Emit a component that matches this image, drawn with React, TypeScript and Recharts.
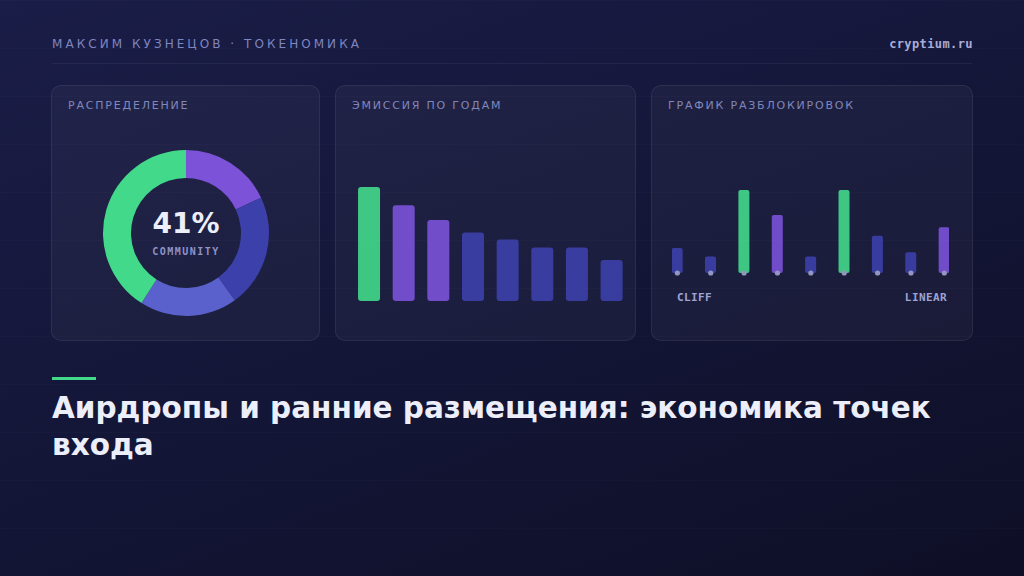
import React from "react";
import {
  PieChart,
  Pie,
  Cell,
  BarChart,
  Bar,
  XAxis,
  YAxis,
  ComposedChart,
  Scatter,
} from "recharts";

// distribution (donut), clockwise from 12 o'clock
const shareNames = ["Команда", "Инвесторы", "Казна", "Community"];
const shareValues = [18, 22, 19, 41];
const shareKinds = ["purple", "blue", "mid", "green"];

// emission per year
const emissionYears = ["2024", "2025", "2026", "2027", "2028", "2029", "2030", "2031"];
const emissionValues = [100, 84, 71, 60, 54, 47, 47, 36];
const emissionKinds = ["green", "purple", "purple", "blue", "blue", "blue", "blue", "blue", "blue"];

// unlock schedule
const unlockSteps = ["M1", "M2", "M3", "M4", "M5", "M6", "M7", "M8", "M9"];
const unlockValues = [6, 4, 20, 14, 4, 20, 9, 5, 11];
const unlockKinds = ["blue", "blue", "green", "purple", "blue", "green", "blue", "blue", "purple"];

const palette: Record<string, string> = {
  green: "#42d98b",
  purple: "#7b52d8",
  blue: "#3c40aa",
  mid: "#5b61cc",
};

const shareData = shareNames.map((name, i) => ({ name, value: shareValues[i], kind: shareKinds[i] }));
const emissionData = emissionYears.map((year, i) => ({ i, year, value: emissionValues[i], kind: emissionKinds[i] }));
const unlockData = unlockSteps.map((step, i) => ({ i, step, value: unlockValues[i], base: 0, kind: unlockKinds[i] }));

const sans = "'DejaVu Sans', sans-serif";
const mono = "'DejaVu Sans Mono', monospace";

const panelStyle: React.CSSProperties = {
  position: "absolute",
  top: 85,
  height: 256,
  borderRadius: 10,
  background: "rgba(255,255,255,0.035)",
  border: "1px solid rgba(255,255,255,0.07)",
  boxSizing: "border-box",
};

const panelTitle: React.CSSProperties = {
  position: "absolute",
  left: 16,
  top: 13,
  fontFamily: sans,
  fontSize: 11,
  letterSpacing: 1.8,
  color: "#8187bb",
  whiteSpace: "nowrap",
};

export default function App() {
  return (
    <div
      style={{
        position: "absolute",
        left: 0,
        top: 0,
        width: 1024,
        height: 576,
        overflow: "hidden",
        background:
          "repeating-linear-gradient(to bottom, rgba(255,255,255,0.014) 0px, rgba(255,255,255,0.014) 1px, transparent 1px, transparent 48px), linear-gradient(160deg, #1a1d47 0%, #141638 50%, #0e0f26 100%)",
        fontFamily: sans,
      }}
    >
      {/* header */}
      <div
        style={{
          position: "absolute",
          left: 52,
          top: 37,
          fontSize: 12,
          letterSpacing: 3.05,
          color: "#7f86c0",
          whiteSpace: "nowrap",
        }}
      >
        МАКСИМ КУЗНЕЦОВ · ТОКЕНОМИКА
      </div>
      <div
        style={{
          position: "absolute",
          right: 51,
          top: 37,
          fontFamily: mono,
          fontWeight: 700,
          fontSize: 12,
          letterSpacing: 0.4,
          color: "#a9acd6",
        }}
      >
        cryptium.ru
      </div>
      <div style={{ position: "absolute", left: 52, top: 63, width: 920, height: 1, background: "rgba(255,255,255,0.06)" }} />

      {/* panel 1: distribution */}
      <div style={{ ...panelStyle, left: 51, width: 269 }}>
        <div style={panelTitle}>РАСПРЕДЕЛЕНИЕ</div>
      </div>
      <div style={{ position: "absolute", left: 96, top: 143 }}>
        <PieChart width={180} height={180} margin={{ top: 0, right: 0, bottom: 0, left: 0 }}>
          <Pie
            data={shareData}
            dataKey="value"
            nameKey="name"
            cx={90}
            cy={90}
            innerRadius={55}
            outerRadius={83}
            startAngle={90}
            endAngle={-270}
            stroke="none"
            isAnimationActive={false}
          >
            {shareData.map((d) => (
              <Cell key={d.name} fill={palette[d.kind]} />
            ))}
          </Pie>
        </PieChart>
      </div>
      <div
        style={{
          position: "absolute",
          left: 86,
          width: 200,
          top: 207,
          textAlign: "center",
          fontWeight: 700,
          fontSize: 28,
          color: "#eceef9",
        }}
      >
        {shareValues[3]}%
      </div>
      <div
        style={{
          position: "absolute",
          left: 86,
          width: 200,
          top: 246,
          textAlign: "center",
          fontFamily: mono,
          fontWeight: 700,
          fontSize: 10,
          letterSpacing: 1.5,
          color: "#8e93c8",
        }}
      >
        COMMUNITY
      </div>

      {/* panel 2: emission */}
      <div style={{ ...panelStyle, left: 335, width: 301 }}>
        <div style={panelTitle}>ЭМИССИЯ ПО ГОДАМ</div>
      </div>
      <div style={{ position: "absolute", left: 351, top: 180 }}>
        <BarChart width={272} height={124} data={emissionData} margin={{ top: 7, right: 0, bottom: 3, left: 0 }}>
          <XAxis
            dataKey="i"
            type="number"
            domain={[-0.53, 7.32]}
            height={0}
            tick={false}
            tickLine={false}
            axisLine={{ stroke: "#3a3d66", strokeWidth: 1.5 }}
          />
          <YAxis hide domain={[0, 100]} />
          <Bar dataKey="value" barSize={22} radius={3} isAnimationActive={false}>
            {emissionData.map((d) => (
              <Cell key={d.year} fill={palette[d.kind]} fillOpacity={0.9} />
            ))}
          </Bar>
        </BarChart>
      </div>

      {/* panel 3: unlocks */}
      <div style={{ ...panelStyle, left: 651, width: 322 }}>
        <div style={panelTitle}>ГРАФИК РАЗБЛОКИРОВОК</div>
      </div>
      <div style={{ position: "absolute", left: 672, top: 183 }}>
        <ComposedChart width={277} height={93} data={unlockData} margin={{ top: 7, right: 0, bottom: 3, left: 0 }}>
          <XAxis
            dataKey="i"
            type="number"
            domain={[-0.16, 8.14]}
            height={0}
            tick={false}
            tickLine={false}
            axisLine={{ stroke: "#3a3d66", strokeWidth: 1.5 }}
          />
          <YAxis hide domain={[0, 20]} />
          <Bar dataKey="value" barSize={11} radius={2} isAnimationActive={false}>
            {unlockData.map((d) => (
              <Cell key={d.step} fill={palette[d.kind]} fillOpacity={0.9} />
            ))}
          </Bar>
          <Scatter
            dataKey="base"
            isAnimationActive={false}
            shape={(p: any) => <circle cx={p.cx} cy={p.cy} r={2.6} fill="#9396bd" />}
          />
        </ComposedChart>
      </div>
      <div
        style={{
          position: "absolute",
          left: 677,
          top: 291,
          fontFamily: mono,
          fontWeight: 700,
          fontSize: 11,
          letterSpacing: 0.4,
          color: "#9ea3d6",
        }}
      >
        CLIFF
      </div>
      <div
        style={{
          position: "absolute",
          right: 77,
          top: 291,
          fontFamily: mono,
          fontWeight: 700,
          fontSize: 11,
          letterSpacing: 0.4,
          color: "#9ea3d6",
        }}
      >
        LINEAR
      </div>

      {/* title */}
      <div style={{ position: "absolute", left: 52, top: 377, width: 44, height: 3, background: "#42d98b" }} />
      <div
        style={{
          position: "absolute",
          left: 52,
          top: 390,
          width: 910,
          fontWeight: 700,
          fontSize: 29.5,
          lineHeight: "37px",
          color: "#eceef9",
        }}
      >
        Аирдропы и ранние размещения: экономика точек входа
      </div>
    </div>
  );
}
